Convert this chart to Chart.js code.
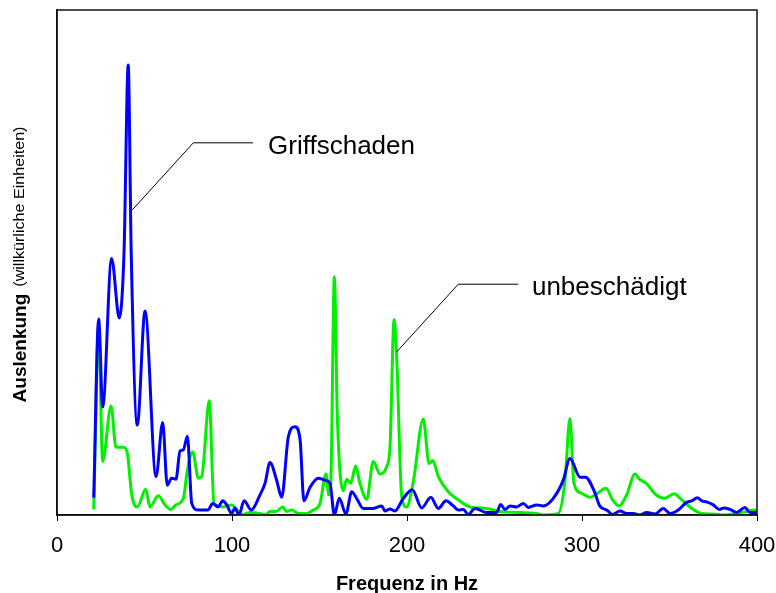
<!DOCTYPE html>
<html>
<head>
<meta charset="utf-8">
<script src="https://cdn.jsdelivr.net/npm/chart.js@4/dist/chart.umd.min.js"></script>
<style>
html,body{margin:0;padding:0;background:#fff;}
#wrap{width:776px;height:593px;}
</style>
</head>
<body>
<div id="wrap"><canvas id="c" width="776" height="593"></canvas></div>
<script>
// ---- data (frequency in Hz, amplitude in arbitrary units) ----
const xTicks = [0, 100, 200, 300, 400];

const damagedHz = [21,23.8,26.1,31.2,35.6,38.3,40.7,42.4,45.9,50.3,56.6,60.4,63,65.5,68,70.3,72.2,74.5,77,80.6,86.3,89,92,94.7,97,99.8,101.7,104,106.9,111,116,118.9,121.7,125.5,128.4,132.2,136,138.9,141.1,144.6,149.3,153.1,156,158.5,161.3,165.1,168.4,171.2,175,180.8,185.5,187.4,190.3,193.1,197.9,203,208.4,213.6,217.9,222.3,226.5,229.3,232.2,235,238.9,245.5,251.2,253.5,256,258.9,262.7,266.5,269.3,274.1,277.9,283.6,289.3,293.1,298.9,302,306.9,310.3,314.1,317.5,321.7,325.5,329.3,332.8,337,341.7,346.5,350.3,355,359.8,362.7,365.9,368.4,371.2,375,378.5,381.1,384.6,388.4,393.1,396,399.8];
const damagedVal = [3.4,38.8,21.4,50.8,39,52,89.1,52,17.8,40.4,7.6,18.3,5.9,7.3,7.1,12.7,12.9,15.6,2.3,1,1,2.3,1.6,2.8,2,0.3,1.4,0,2.8,1,4,6.3,10.4,6.9,3.5,15.5,17.5,14.9,2.8,5.5,7.3,6.9,6.3,0,3.3,0.2,4.6,3.3,1.3,1.3,1.8,0.8,1.2,0.8,3.3,5,1.4,3.5,1.3,2.8,1.8,1,1.1,0.1,1.3,0.5,0.5,2.1,1.1,1.8,1.6,2.3,1.5,2,1.8,3.3,6.9,11.2,7.5,7.5,4.8,1.7,1,0.1,0.8,0.3,0.3,0,0.5,0.2,1.3,0.3,1,2.5,2.8,3.4,2.8,2.6,2,1.1,1.4,1.1,0.5,1.5,0.5,0.5];

const intactHz = [21,23.8,26.1,30.9,33.7,37.9,40.2,42.7,45.9,50.7,53.1,57.9,61.7,65,68,72.2,74.5,77.5,80.8,82.7,87,89.7,95,99.8,104.6,106.5,110.3,116,118.9,121.7,125.1,129,131.2,134.1,137.9,142.7,146.5,150.3,153.7,155.3,156.5,158.5,160.2,163.6,165.5,167.8,170.7,173.1,177,180.7,184.6,188.4,190.3,192.6,194.1,197,199.8,203.6,209.3,212.6,214.7,217.9,223.6,229.3,236,245.5,253.1,264.6,274.1,277.9,286.5,290.3,293.1,295.4,299.8,304.6,308.9,313.7,317.5,321.3,325.5,330.3,332.8,336.6,342.3,347.4,352.6,357,363.6,368.4,375,380.8,388.4,394.1,398.3,400];
const intactVal = [1.1,37,10.6,21.6,13.4,13.4,12.2,4,1.6,5.1,1.6,3.8,2,1.1,2,3.3,8.9,12.5,7.3,7.6,22.6,2.3,1.6,2,0.3,0.1,0.5,0.3,0,0.7,0.7,1.6,0.7,1,0.3,0.3,1,2.3,8.1,4,7,47.2,19.5,4.8,7.1,6.3,9.7,6.3,3.1,10.6,8.1,9.6,13.5,38.7,31.3,3.6,1.6,6.6,19,10.2,10.8,7.6,4.6,3,1.6,1.3,0.7,0.5,0.3,0,0.3,6.9,19.1,6.3,4.3,3.5,4.3,5.3,3,1.8,4,8.1,7.1,6.3,4,3.3,4.2,3,1.1,0.3,0.2,0,0.3,0.7,1,0.9];

const seriesNames = ['Griffschaden', 'unbeschädigt'];
const xTitle = 'Frequenz in Hz';
const yTitleMain = 'Auslenkung';
const yTitleSub = '(willkürliche Einheiten)';

// callouts in data units
const callouts = [
  {label: 'Griffschaden', tip: [43.0, 60.4], elbow: [77.9, 73.7], end: 112, textX: 120.6},
  {label: 'unbeschädigt', tip: [194.1, 32.3], elbow: [229.3, 45.7], end: 263.6, textX: 271.4}
];

const FONT = '"Liberation Sans", Arial, sans-serif';
const toPts = (xs, ys) => xs.map((x, i) => ({x: x, y: ys[i]}));

const decor = {
  id: 'decor',
  afterDraw(chart) {
    const ctx = chart.ctx, a = chart.chartArea;
    const xs = chart.scales.x, ys = chart.scales.y;
    ctx.save();
    // frame
    ctx.strokeStyle = '#111';
    ctx.lineWidth = 1.5;
    ctx.strokeRect(a.left, a.top, a.right - a.left, a.bottom - a.top);
    // callouts
    ctx.strokeStyle = '#000';
    ctx.lineWidth = 1;
    ctx.fillStyle = '#000';
    ctx.font = '26px ' + FONT;
    ctx.textBaseline = 'middle';
    callouts.forEach(c => {
      const ey = ys.getPixelForValue(c.elbow[1]);
      ctx.beginPath();
      ctx.moveTo(xs.getPixelForValue(c.tip[0]), ys.getPixelForValue(c.tip[1]));
      ctx.lineTo(xs.getPixelForValue(c.elbow[0]), ey);
      ctx.lineTo(xs.getPixelForValue(c.end), ey);
      ctx.stroke();
      ctx.fillText(c.label, xs.getPixelForValue(c.textX), ey + 4);
    });
    // x title
    ctx.font = 'bold 20px ' + FONT;
    ctx.textAlign = 'center';
    ctx.fillText(xTitle, (a.left + a.right) / 2, 584);
    // y title
    ctx.translate(21, (a.top + a.bottom) / 2 + 2);
    ctx.rotate(-Math.PI / 2);
    ctx.textAlign = 'left';
    ctx.font = 'bold 19px ' + FONT;
    const w1 = ctx.measureText(yTitleMain).width;
    ctx.font = '14px ' + FONT;
    const stretch = 1.15;
    const w2 = ctx.measureText(yTitleSub).width * stretch;
    const gap = 7;
    const total = w1 + gap + w2;
    const sx = -total / 2;
    ctx.font = 'bold 19px ' + FONT;
    ctx.fillText(yTitleMain, sx, 0);
    ctx.font = '14px ' + FONT;
    ctx.translate(sx + w1 + gap, -1);
    ctx.scale(stretch, 1);
    ctx.fillText(yTitleSub, 0, 0);
    ctx.restore();
  }
};

new Chart(document.getElementById('c'), {
  type: 'line',
  data: {
    datasets: [
      {label: seriesNames[0], data: toPts(damagedHz, damagedVal), borderColor: '#0000ff', borderWidth: 3, pointRadius: 0, fill: false, cubicInterpolationMode: 'monotone'},
      {label: seriesNames[1], data: toPts(intactHz, intactVal), borderColor: '#00f000', borderWidth: 3, pointRadius: 0, fill: false, cubicInterpolationMode: 'monotone'}
    ]
  },
  options: {
    responsive: false,
    animation: false,
    layout: {padding: {top: 10, right: 19, left: 0, bottom: 0}},
    plugins: {legend: {display: false}, tooltip: {enabled: false}},
    scales: {
      x: {
        type: 'linear', min: 0, max: 400,
        afterBuildTicks: s => { s.ticks = xTicks.map(v => ({value: v})); },
        afterFit: s => { s.height = 78; s.paddingRight = 0; s.paddingLeft = 0; },
        ticks: {color: '#000', font: {size: 22, family: FONT}, padding: 12, maxRotation: 0},
        grid: {drawOnChartArea: false, drawTicks: true, tickLength: 6, tickColor: '#000'},
        border: {display: true, color: '#111', width: 1.5}
      },
      y: {
        type: 'linear', min: 0, max: 100,
        afterFit: s => { s.width = 57; },
        ticks: {display: false},
        grid: {display: false},
        border: {display: true, color: '#111', width: 1.5}
      }
    }
  },
  plugins: [decor]
});
</script>
</body>
</html>
